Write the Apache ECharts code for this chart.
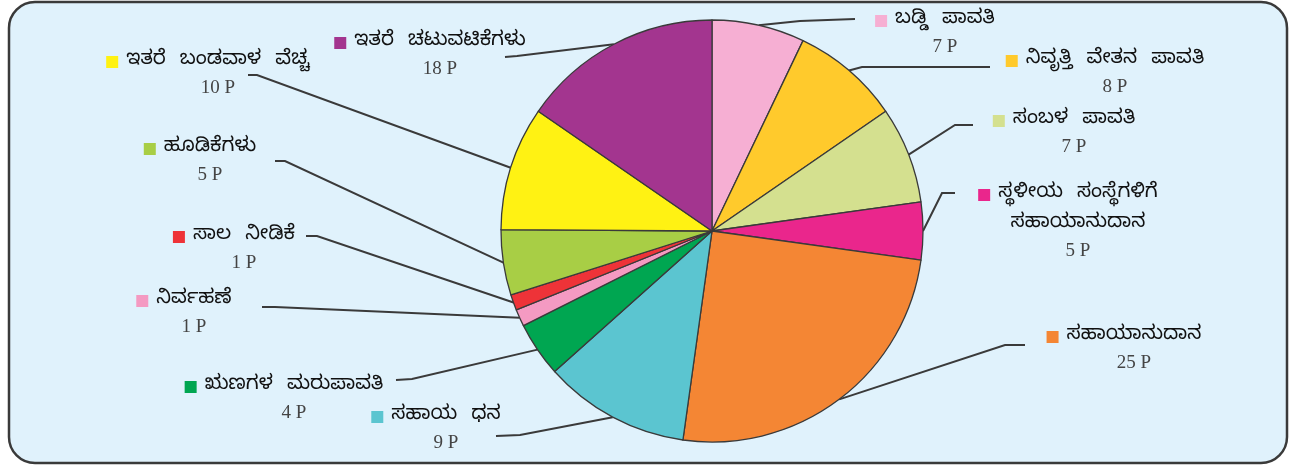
<!DOCTYPE html>
<html>
<head>
<meta charset="utf-8">
<title>ಪಾವತಿ</title>
<script src="https://cdn.jsdelivr.net/npm/echarts@6/dist/echarts.min.js"></script>
<style>
  html, body { margin: 0; padding: 0; background: #ffffff; }
  #chart { width: 1296px; height: 468px; }
</style>
</head>
<body>
<div id="chart"></div>
<script>
// ಪ್ರತಿ ರೂಪಾಯಿ ಖರ್ಚು (ಪೈಸೆಗಳಲ್ಲಿ)
var names = [
    'ಬಡ್ಡಿ ಪಾವತಿ',
    'ನಿವೃತ್ತಿ ವೇತನ ಪಾವತಿ',
    'ಸಂಬಳ ಪಾವತಿ',
    'ಸ್ಥಳೀಯ ಸಂಸ್ಥೆಗಳಿಗೆ\nಸಹಾಯಾನುದಾನ',
    'ಸಹಾಯಾನುದಾನ',
    'ಸಹಾಯ ಧನ',
    'ಋಣಗಳ ಮರುಪಾವತಿ',
    'ನಿರ್ವಹಣೆ',
    'ಸಾಲ ನೀಡಿಕೆ',
    'ಹೂಡಿಕೆಗಳು',
    'ಇತರೆ ಬಂಡವಾಳ ವೆಚ್ಚ',
    'ಇತರೆ ಚಟುವಟಿಕೆಗಳು'
];
var paise = [7, 8, 7, 5, 25, 9, 4, 1, 1, 5, 10, 18];          // labels
var sliceShare = [7.1, 8.3, 7.4, 4.4, 25.0, 11.2, 4.2, 1.3, 1.2, 5.0, 9.5, 15.4]; // slice size as drawn (%)
var colors = ['#F6AFD3', '#FFCA2C', '#D4E08F', '#EA268C', '#F48634', '#5BC5D0',
              '#00A651', '#F49AC2', '#EE3338', '#A8CE45', '#FFF213', '#A3358F'];

// label centres and leader line bends (layout only)
var labelAt = [[945, 32], [1115, 72], [1074, 132], [1078, 221], [1134, 348], [446, 428],
               [294, 398], [194, 312], [244, 248], [210, 160], [218, 73], [440, 54]];
var leader = [[800, 21, 855, 19], [862, 67, 990, 67], [955, 125, 973, 125], [942, 193, 955, 193],
              [1005, 345, 1025, 345], [520, 435, 496, 436], [412, 379, 396, 380], [275, 307, 262, 307],
              [317, 236, 306, 236], [285, 161, 275, 161], [257, 75, 248, 75], [517, 56, 505, 57]];

var knFont = '"Noto Sans Kannada", "Noto Sans", sans-serif';

// words kept as text, wide word gaps like the original
function nameLine(s) {
    return s.split(' ').map(function (w) { return '{name|' + w + '}'; }).join('{sp| }');
}

var pieData = names.map(function (n, i) {
    var lines = n.split('\n');
    var txt = '{sq|}{gap|}' + nameLine(lines[0]) + '{pad|}';
    for (var k = 1; k < lines.length; k++) {
        txt += '\n' + nameLine(lines[k]);
    }
    txt += '\n{val|' + paise[i] + ' P}';
    return {
        name: n,
        value: sliceShare[i],
        itemStyle: { color: colors[i] },
        label: {
            formatter: txt,
            rich: {
                sq: { width: 12, height: 12, backgroundColor: colors[i] },
                gap: { width: 8 },
                pad: { width: 20 },
                sp: { width: 14, fontSize: 20 },
                name: { fontFamily: knFont, fontSize: 20, color: '#111', lineHeight: 30 },
                val: { fontFamily: '"Liberation Serif", serif', fontSize: 19, color: '#444', lineHeight: 22 }
            }
        }
    };
});

var chart = echarts.init(document.getElementById('chart'));
var option = {
    animation: false,
    graphic: [{
        type: 'rect',
        z: -10,
        shape: { x: 9, y: 2, width: 1278, height: 461, r: 26 },
        style: { fill: '#E0F2FC', stroke: '#3a3a3a', lineWidth: 2.5 }
    }],
    series: [{
        type: 'pie',
        center: [712, 231],
        radius: 211,
        startAngle: 90,
        clockwise: true,
        avoidLabelOverlap: false,
        itemStyle: { borderColor: '#3a3a3a', borderWidth: 1.3 },
        label: { show: true, position: 'outside', align: 'center' },
        labelLine: { show: true, length: 20, length2: 20, lineStyle: { color: '#3a3a3a', width: 2 } },
        labelLayout: function (params) {
            var i = params.dataIndex;
            var l = leader[i];
            var start = params.labelLinePoints[0];
            return {
                x: labelAt[i][0],
                y: labelAt[i][1],
                align: 'center',
                verticalAlign: 'middle',
                labelLinePoints: [start, [l[0], l[1]], [l[2], l[3]]]
            };
        },
        emphasis: { disabled: true },
        data: pieData
    }]
};
chart.setOption(option);
</script>
</body>
</html>
